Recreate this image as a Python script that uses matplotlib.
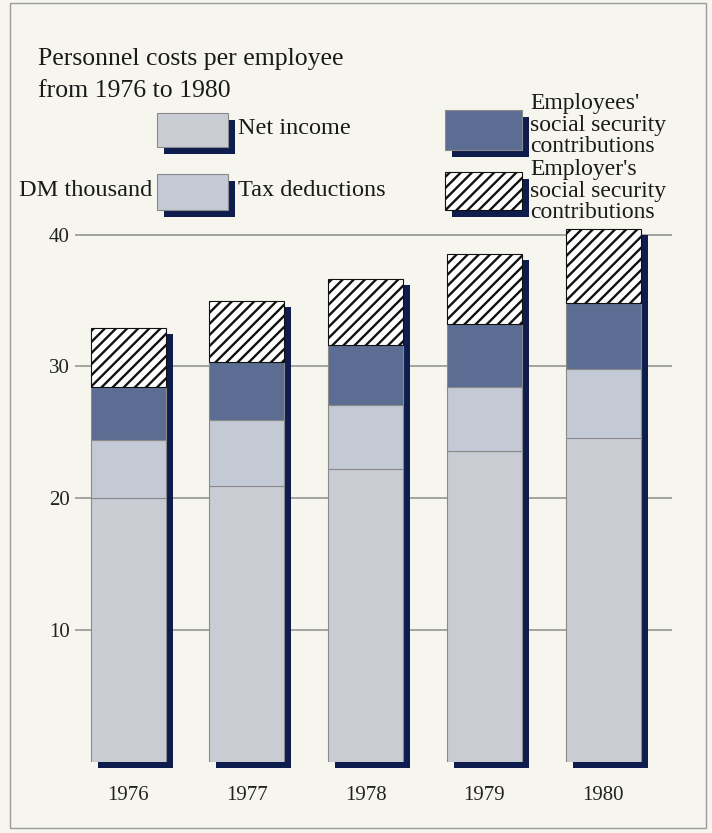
import numpy as np
import matplotlib
matplotlib.use("Agg")
import matplotlib.pyplot as plt
from matplotlib.patches import Rectangle

plt.rcParams['font.family'] = ['Liberation Serif', 'DejaVu Serif']
plt.rcParams['hatch.linewidth'] = 1.7

# data (DM thousand per employee)
years = ['1976', '1977', '1978', '1979', '1980']
net_income = [20.0, 20.9, 22.2, 23.6, 24.6]
tax_deductions = [4.4, 5.0, 4.9, 4.8, 5.2]
employee_ss = [4.0, 4.4, 4.5, 4.8, 5.0]
employer_ss = [4.5, 4.7, 5.0, 5.3, 5.6]
y_ticks = [10, 20, 30, 40]

BG = '#f6f5ee'
NAVY = '#0e1d4d'
C_NET = '#c9ccd3'
C_TAX = '#c3c9d5'
C_EMP = '#5b6d93'
EDGE = '#8a8a8a'

W, H = 712, 833
fig = plt.figure(figsize=(W / 100, H / 100), dpi=100, facecolor=BG)


def px(x, y):
    # pixel coords (top-left origin) -> figure fraction
    return x / W, 1 - y / H


# frame around the whole chart
fig.add_artist(Rectangle(px(10, 828), 696 / W, 825 / H, fill=False,
                         edgecolor='#9a9a9a', lw=1.0, transform=fig.transFigure))

# axes placed so 0 sits at y=761px and 1 unit = 13.17px
unit = 13.17
ymax = 42
x0, x1 = 75, 672
ax = fig.add_axes([x0 / W, (H - 761.5) / H, (x1 - x0) / W, ymax * unit / H])
ax.set_facecolor('none')
ax.set_ylim(0, ymax)
xs = np.arange(len(years))
spacing = 118.75
ax.set_xlim((x0 - 128) / spacing, (x1 - 128) / spacing)
for s in ax.spines.values():
    s.set_visible(False)

ax.hlines(y_ticks, ax.get_xlim()[0], ax.get_xlim()[1], color='#8c8c8c', lw=1.1, zorder=0)

width = 75 / spacing
dx = 7 / spacing
dy = 6 / unit

net = np.array(net_income)
tax = np.array(tax_deductions)
emp = np.array(employee_ss)
empr = np.array(employer_ss)
totals = net + tax + emp + empr

# drop shadows
ax.bar(xs + dx, totals, bottom=-dy, width=width, color=NAVY, zorder=1, clip_on=False)

ax.bar(xs, net, width=width, color=C_NET, edgecolor=EDGE, lw=0.8, zorder=2)
ax.bar(xs, tax, bottom=net, width=width, color=C_TAX, edgecolor=EDGE, lw=0.8, zorder=2)
ax.bar(xs, emp, bottom=net + tax, width=width, color=C_EMP, edgecolor=EDGE, lw=0.8, zorder=2)
ax.bar(xs, empr, bottom=net + tax + emp, width=width, color='white', edgecolor='#111111',
       hatch='///', lw=0.8, zorder=2)

ax.set_yticks(y_ticks)
ax.set_yticklabels([str(t) for t in y_ticks], fontsize=15, color='#222222')
ax.set_xticks(xs)
ax.set_xticklabels(years, fontsize=15, color='#222222')
ax.tick_params(axis='y', length=0, pad=4)
ax.tick_params(axis='x', length=0, pad=18)

# title
fig.text(*px(38, 65), 'Personnel costs per employee', fontsize=18.5, va='baseline',
         ha='left', color='#1a1a1a')
fig.text(*px(38, 97), 'from 1976 to 1980', fontsize=18.5, va='baseline', ha='left',
         color='#1a1a1a')


# legend
def legend_box(x, y, w, h, face, hatch=None, edge=EDGE):
    fig.add_artist(Rectangle(px(x + 7, y + h + 7), w / W, h / H, facecolor=NAVY,
                             edgecolor='none', transform=fig.transFigure))
    fig.add_artist(Rectangle(px(x, y + h), w / W, h / H, facecolor=face, edgecolor=edge,
                             lw=0.8, hatch=hatch, transform=fig.transFigure))


legend_box(157, 113, 71, 34, C_NET)
legend_box(157, 174, 71, 36, C_TAX)
legend_box(445, 110, 77, 40, C_EMP)
legend_box(445, 172, 77, 38, 'white', hatch='///', edge='#111111')

lkw = dict(fontsize=17.5, color='#1a1a1a', va='center')
fig.text(*px(238, 128), 'Net income', ha='left', **lkw)
fig.text(*px(238, 190), 'Tax deductions', ha='left', **lkw)
fig.text(*px(152, 190), 'DM thousand', ha='right', **lkw)
mkw = dict(fontsize=17, color='#1a1a1a', va='center', ha='left', linespacing=1.0)
fig.text(*px(530, 125), "Employees'\nsocial security\ncontributions", **mkw)
fig.text(*px(530, 191), "Employer's\nsocial security\ncontributions", **mkw)

fig.savefig('out.png', dpi=100, facecolor=BG)
